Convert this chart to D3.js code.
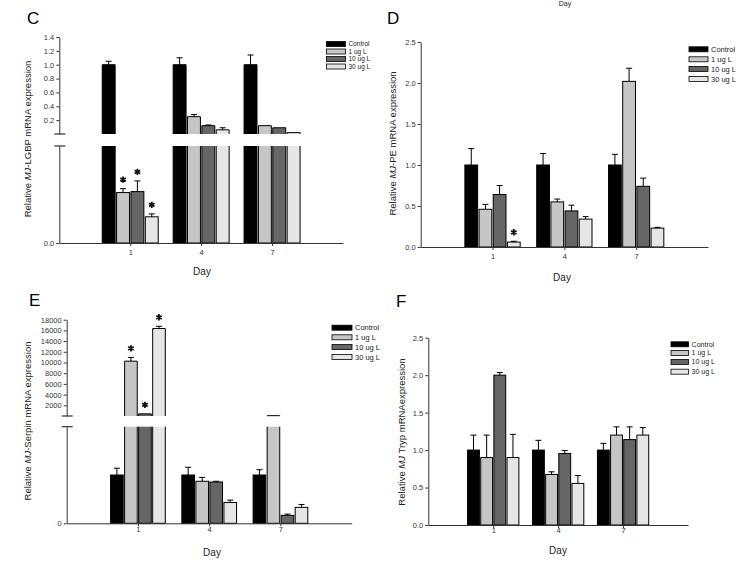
<!DOCTYPE html>
<html><head><meta charset="utf-8">
<script src="https://cdn.jsdelivr.net/npm/d3@7"></script>
<style>
body{margin:0;background:#fff}
svg{display:block}
text{font-family:"Liberation Sans",Arial,sans-serif}
</style>
</head><body>
<svg id="chart" width="740" height="561"></svg>
<script>
// ---------- DATA ----------
const days = ["1", "4", "7"];
const groups = ["Control", "1 ug L", "10 ug L", "30 ug L"];

// Panel C : MJ-LGBP (rows = groups, cols = days)
const lgbpMean = [[1.00, 1.00, 1.00], [0.0052, 0.25, 0.12], [0.0053, 0.12, 0.09], [0.0027, 0.06, 0.02]];
const lgbpErr  = [[0.05, 0.10, 0.14], [0.0004, 0.03, 0], [0.0011, 0.01, 0], [0.0003, 0.03, 0]];
const lgbpSig  = [[0, 0, 0], [1, 0, 0], [1, 0, 0], [1, 0, 0]];
const lgbpTicksUpper = [0.2, 0.4, 0.6, 0.8, 1.0, 1.2, 1.4];
const lgbpTicksLower = [0.0];

// Panel D : MJ-PE
const peMean = [[1.00, 1.00, 1.00], [0.46, 0.55, 2.02], [0.64, 0.44, 0.74], [0.06, 0.34, 0.23]];
const peErr  = [[0.20, 0.14, 0.13], [0.06, 0.035, 0.16], [0.11, 0.07, 0.10], [0.01, 0.03, 0.01]];
const peSig  = [[0, 0, 0], [0, 0, 0], [0, 0, 0], [1, 0, 0]];
const peTicks = [0.0, 0.5, 1.0, 1.5, 2.0, 2.5];

// Panel E : MJ-Serpin
const serpinMean = [[1.00, 1.00, 1.00], [10250, 0.87, 60], [400, 0.855, 0.165], [16350, 0.43, 0.33]];
const serpinErr  = [[0.14, 0.16, 0.11], [700, 0.08, 0], [0, 0.015, 0.025], [420, 0.05, 0.06]];
const serpinSig  = [[0, 0, 0], [1, 0, 0], [1, 0, 0], [1, 0, 0]];
const serpinTicksUpper = [2000, 4000, 6000, 8000, 10000, 12000, 14000, 16000, 18000];
const serpinTicksLower = [0];

// Panel F : MJ Tryp
const trypMean = [[1.00, 1.00, 1.00], [0.90, 0.675, 1.20], [2.00, 0.955, 1.14], [0.90, 0.555, 1.20]];
const trypErr  = [[0.20, 0.13, 0.09], [0.30, 0.035, 0.11], [0.035, 0.04, 0.17], [0.31, 0.105, 0.10]];
const trypSig  = [[0, 0, 0], [0, 0, 0], [0, 0, 0], [0, 0, 0]];
const trypTicks = [0.0, 0.5, 1.0, 1.5, 2.0, 2.5];

// ---------- STYLE ----------
const fills = ["#000000", "#c6c6c6", "#666666", "#e6e6e6"];
const axisColor = "#333";

const svg = d3.select("#chart");

function drawPanel(c) {
  const g = svg.append("g");
  const xPoint = d3.scalePoint().domain(days).range([c.x0, c.x1]).padding(1);
  const xInner = d3.scaleBand().domain(groups).range([-c.gw / 2, c.gw / 2]).paddingInner(0.1);
  const bw = xInner.bandwidth();

  let yLow, yUp, lowMax;
  if (c.broken) {
    yLow = d3.scaleLinear().domain(c.lowDom).range(c.lowRange);
    yUp = d3.scaleLinear().domain(c.upDom).range(c.upRange);
    lowMax = c.lowDom[1];
  } else {
    yLow = d3.scaleLinear().domain(c.dom).range(c.range);
    lowMax = Infinity;
  }

  // bars
  groups.forEach((gr, i) => {
    days.forEach((d, j) => {
      const v = c.mean[i][j], e = c.err[i][j];
      const xl = xPoint(d) + xInner(gr), xr = xl + bw;
      let yTop, scale;
      if (v <= lowMax) {
        const y0 = yLow(0), y1 = yLow(v);
        g.append("rect").attr("x", xl).attr("y", y1).attr("width", bw).attr("height", Math.max(0, y0 - y1))
          .attr("fill", fills[i]).attr("stroke", "#000").attr("stroke-width", 1);
        yTop = y1; scale = yLow;
      } else {
        const y0 = yLow(0), y1 = yLow(lowMax);
        g.append("rect").attr("x", xl).attr("y", y1).attr("width", bw).attr("height", y0 - y1).attr("fill", fills[i]);
        g.append("path").attr("d", `M${xl},${y1}L${xl},${y0}L${xr},${y0}L${xr},${y1}`)
          .attr("fill", "none").attr("stroke", "#000").attr("stroke-width", 1);
        const u0 = yUp.range()[0], u1 = yUp(v);
        g.append("rect").attr("x", xl).attr("y", u1).attr("width", bw).attr("height", Math.max(0, u0 - u1)).attr("fill", fills[i]);
        g.append("path").attr("d", `M${xl},${u0}L${xl},${u1}L${xr},${u1}L${xr},${u0}`)
          .attr("fill", "none").attr("stroke", "#000").attr("stroke-width", 1);
        yTop = u1; scale = yUp;
      }
      const cx = xl + bw / 2;
      let yErr = yTop;
      if (e > 0) {
        yErr = scale(v + e);
        g.append("line").attr("x1", cx).attr("x2", cx).attr("y1", yTop).attr("y2", yErr).attr("stroke", "#000");
        g.append("line").attr("x1", cx - 3).attr("x2", cx + 3).attr("y1", yErr).attr("y2", yErr).attr("stroke", "#000");
      }
      if (c.sig[i][j]) {
        g.append("path").attr("d", d3.symbol().type(d3.symbolAsterisk).size(28)())
          .attr("transform", `translate(${cx},${yErr - 9})`)
          .attr("fill", "none").attr("stroke", "#111").attr("stroke-width", 1.8);
      }
    });
  });

  function styleAxis(sel) {
    sel.selectAll("path.domain").attr("stroke", axisColor);
    sel.selectAll(".tick line").attr("stroke", axisColor);
    sel.selectAll(".tick text").attr("fill", "#333").attr("font-size", c.tickFont || 7.5)
      .attr("font-family", "Liberation Sans, Arial, sans-serif");
  }
  const xa = g.append("g").attr("transform", `translate(0,${yLow(0)})`)
    .call(d3.axisBottom(xPoint).tickSize(3).tickSizeOuter(0).tickPadding(c.xPad));
  styleAxis(xa);

  if (c.broken) {
    const la = g.append("g").attr("transform", `translate(${c.x0},0)`)
      .call(d3.axisLeft(yLow).tickValues(c.lowTicks).tickFormat(d3.format(c.fmt)).tickSize(3).tickSizeOuter(0).tickPadding(2));
    styleAxis(la);
    const ua = g.append("g").attr("transform", `translate(${c.x0},0)`)
      .call(d3.axisLeft(yUp).tickValues(c.upTicks).tickFormat(d3.format(c.fmt)).tickSize(3).tickSizeOuter(0).tickPadding(2));
    styleAxis(ua);
    [yUp.range()[0], yLow.range()[1]].forEach(yy => {
      g.append("line").attr("x1", c.x0 - 5).attr("x2", c.x0 + 6).attr("y1", yy).attr("y2", yy)
        .attr("stroke", axisColor).attr("stroke-width", 1.2);
    });
  } else {
    const ya = g.append("g").attr("transform", `translate(${c.x0},0)`)
      .call(d3.axisLeft(yLow).tickValues(c.ticks).tickFormat(d3.format(c.fmt)).tickSize(3).tickSizeOuter(0).tickPadding(2));
    styleAxis(ya);
  }

  g.append("text").attr("x", c.dayX).attr("y", c.dayY).attr("text-anchor", "middle")
    .attr("font-size", 10).attr("fill", "#222").text("Day");
  const yl = g.append("text").attr("transform", `translate(${c.ylX},${c.ylY}) rotate(-90)`)
    .attr("text-anchor", "middle").attr("font-size", c.ylFont).attr("fill", "#222");
  yl.append("tspan").text("Relative ");
  yl.append("tspan").attr("font-style", "italic").text("MJ");
  yl.append("tspan").text(c.ylRest);

  g.append("text").attr("x", c.letX).attr("y", c.letY).attr("font-family", "Liberation Serif, Times New Roman, serif")
    .attr("font-size", 17).attr("fill", "#000").text(c.letter);

  groups.forEach((gr, i) => {
    const yy = c.legY[i];
    g.append("rect").attr("x", c.legX).attr("y", yy - c.legH / 2).attr("width", c.legW).attr("height", c.legH)
      .attr("fill", fills[i]).attr("stroke", "#000").attr("stroke-width", 0.8);
    g.append("text").attr("x", c.legX + c.legW + 3).attr("y", yy + c.legFont * 0.35)
      .attr("font-size", c.legFont).attr("fill", "#222").text(gr);
  });
}

drawPanel({
  letter: "C", letX: 27, letY: 24,
  mean: lgbpMean, err: lgbpErr, sig: lgbpSig,
  x0: 59.3, x1: 343, gw: 56, broken: true,
  lowDom: [0, 0.01], lowRange: [243, 146], upDom: [0, 1.4], upRange: [134, 37],
  lowTicks: lgbpTicksLower, upTicks: lgbpTicksUpper, fmt: ".1f", xPad: 4,
  dayX: 202, dayY: 275, ylX: 31, ylY: 139, ylFont: 9.5, ylRest: "-LGBP mRNA expression",
  legX: 326.5, legW: 19, legH: 5, legY: [44, 51.5, 59, 66.5], legFont: 6.5
});

drawPanel({
  letter: "D", letX: 387, letY: 23.5,
  mean: peMean, err: peErr, sig: peSig,
  x0: 420.7, x1: 708, gw: 55.3, broken: false,
  dom: [0, 2.5], range: [247, 42], ticks: peTicks, fmt: ".1f", xPad: 4,
  dayX: 562, dayY: 280.5, ylX: 396, ylY: 143.5, ylFont: 9.5, ylRest: "-PE mRNA expression",
  legX: 689, legW: 19, legH: 5, legY: [49.3, 59.3, 69, 79], legFont: 7.5
});

drawPanel({
  letter: "E", letX: 29, letY: 306,
  mean: serpinMean, err: serpinErr, sig: serpinSig,
  x0: 66.7, x1: 351.7, gw: 54.7, broken: true,
  lowDom: [0, 2], lowRange: [523.3, 426.7], upDom: [0, 18000], upRange: [416, 319.7],
  lowTicks: serpinTicksLower, upTicks: serpinTicksUpper, fmt: "d", xPad: 0,
  dayX: 212, dayY: 555.5, ylX: 31, ylY: 421, ylFont: 9.5, ylRest: "-Serpin mRNA expression",
  legX: 332, legW: 20, legH: 5, legY: [327.7, 337.3, 347, 357], legFont: 7.5
});

drawPanel({
  letter: "F", letX: 396, letY: 306.5,
  mean: trypMean, err: trypErr, sig: trypSig,
  x0: 428.3, x1: 688, gw: 51.3, broken: false,
  dom: [0, 2.5], range: [525, 337.7], ticks: trypTicks, fmt: ".1f", xPad: 0,
  dayX: 558, dayY: 553.5, ylX: 405, ylY: 432, ylFont: 9.5, ylRest: " Tryp mRNAexpression",
  legX: 671, legW: 17.6, legH: 5, legY: [344.3, 353, 362, 371.7], legFont: 7
});

// label of the figure above panel D (only its lower edge is visible in the reference)
svg.append("text").attr("x", 565).attr("y", 6).attr("text-anchor", "middle")
  .attr("font-size", 7).attr("fill", "#222").text("Day");
</script>
</body></html>
